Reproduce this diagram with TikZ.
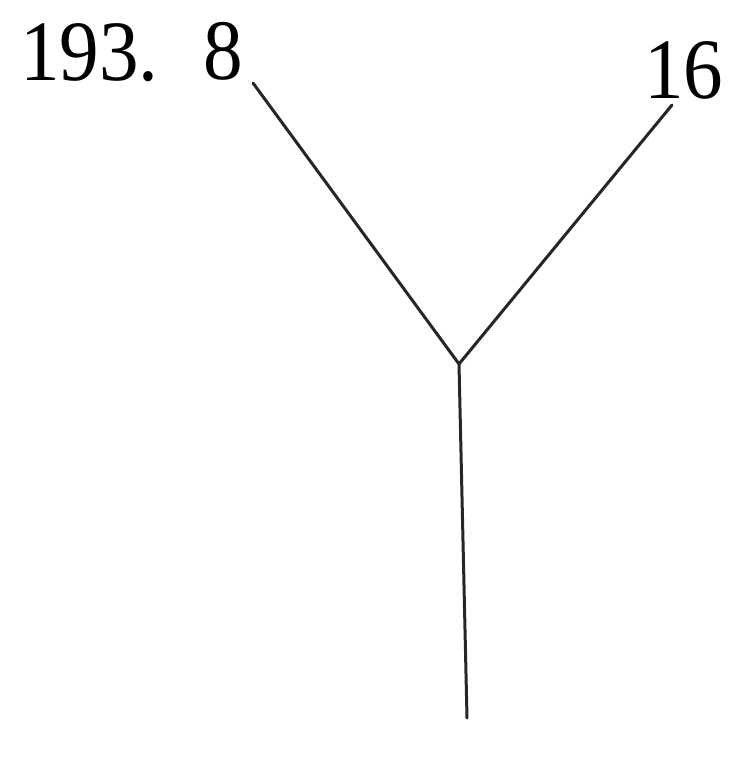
\documentclass[tikz,border=0pt]{standalone}
\usepackage{fontspec}
\setmainfont{Liberation Serif}
\begin{document}
\begin{tikzpicture}[x=1pt,y=-1pt,
  lbl/.style={inner sep=0pt,anchor=base west,font=\fontsize{86}{86}\selectfont},
  branch/.style={line width=3pt,line cap=round,black!85}]
\useasboundingbox (0,0) rectangle (729,758);
\node[lbl] (num) at (20,80) {\scalebox{0.92}[1]{193.}};
\node[lbl] (a) at (203,79) {\scalebox{0.92}[1]{8}};
\node[lbl] (b) at (644,98) {\scalebox{0.92}[1]{16}};
\coordinate (tl) at (253,83);
\coordinate (tr) at (672,105);
\coordinate (j) at (459,364);
\coordinate (bt) at (467,718);
\draw[branch] (tl) -- (j) -- (tr);
\draw[branch] (j) -- (bt);
\end{tikzpicture}
\end{document}
